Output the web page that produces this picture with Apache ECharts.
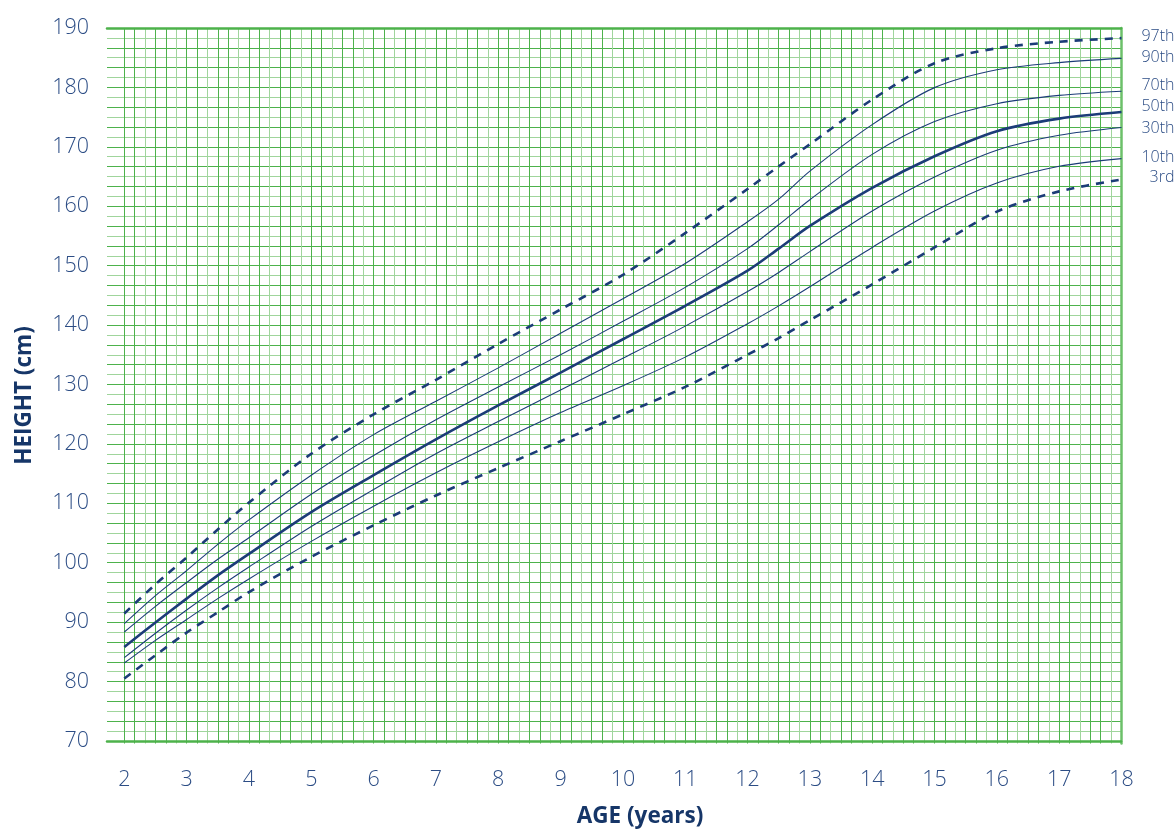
<!DOCTYPE html>
<html>
<head>
<meta charset="utf-8">
<script src="https://cdn.jsdelivr.net/npm/echarts@6/dist/echarts.min.js"></script>
<style>
html,body{margin:0;padding:0;background:#fff;}
#chart{width:1176px;height:833px;}
</style>
</head>
<body>
<div id="chart"></div>
<script>
// ---- data ----
const ages = [2, 2.5, 3, 3.5, 4, 5, 6, 7, 8, 9, 10, 11, 12, 12.5, 13, 14, 15, 16, 17, 18];
const p97 = [91.8, 96.7, 101.2, 105.9, 110.4, 118.6, 125.2, 131.0, 137.0, 142.8, 148.6, 155.6, 163.0, 166.8, 170.5, 178.0, 184.1, 186.6, 187.7, 188.3];
const p90 = [90.1, 94.8, 99.0, 103.4, 107.5, 115.0, 121.8, 127.4, 133.0, 138.8, 144.6, 150.5, 157.5, 161.3, 166.0, 173.8, 180.0, 183.0, 184.2, 184.9];
const p70 = [88.7, 93.0, 97.0, 100.9, 104.5, 111.8, 118.3, 124.3, 129.8, 135.2, 140.8, 146.5, 153.0, 157.0, 161.2, 168.8, 174.3, 177.3, 178.7, 179.4];
const p50 = [86.2, 90.3, 94.3, 98.2, 101.8, 108.8, 115.0, 121.0, 126.7, 132.2, 137.8, 143.4, 149.3, 153.0, 156.8, 163.2, 168.5, 172.7, 174.8, 175.9];
const p30 = [84.4, 88.5, 92.4, 96.1, 99.6, 106.4, 112.6, 118.6, 124.0, 129.3, 134.6, 140.0, 145.8, 149.0, 152.5, 159.3, 165.0, 169.5, 172.0, 173.3];
const p10 = [83.5, 87.3, 90.8, 94.3, 97.6, 103.9, 109.8, 115.4, 120.6, 125.5, 130.0, 134.8, 140.4, 143.4, 146.6, 153.2, 159.3, 164.0, 166.8, 168.1];
const p03 = [80.9, 84.8, 88.6, 92.0, 95.4, 101.3, 106.6, 111.6, 116.2, 120.7, 125.2, 129.8, 135.2, 138.0, 141.0, 147.0, 153.2, 159.2, 162.6, 164.6];
const centileNames = ['97th', '90th', '70th', '50th', '30th', '10th', '3rd'];
const xTitle = 'AGE (years)';
const yTitle = 'HEIGHT (cm)';
const yMin = 70, yMax = 190, xMin = 2, xMax = 18;

// ---- styling ----
const navy = '#1c3c78';
const labelBlue = '#2c4d85';
const titleBlue = '#163668';
const gDark = '#4db24b';
const gLight = '#a0d59c';
const font = '"Open Sans", "Noto Sans", sans-serif';

function pairs(vals) { return ages.map((a, i) => [a, vals[i]]); }
const seriesVals = [p97, p90, p70, p50, p30, p10, p03];
const labelDy = [-2, -1, -6, -5.5, 1, -1.5, -2];

const series = seriesVals.map((vals, i) => {
  const dashed = (i === 0 || i === 6);
  const thick = (i === 3);
  return {
    type: 'line',
    xAxisIndex: 2,
    yAxisIndex: 1,
    data: pairs(vals),
    smooth: 0.3,
    showSymbol: false,
    symbol: 'none',
    silent: true,
    lineStyle: {
      color: navy,
      width: dashed ? 2.6 : (thick ? 2.6 : 1.1),
      type: dashed ? [8, 7] : 'solid'
    },
    endLabel: {
      show: true,
      formatter: centileNames[i],
      distance: 0,
      align: 'right',
      offset: [53, labelDy[i]],
      color: labelBlue,
      fontSize: 16,
      fontFamily: font,
      fontWeight: 300
    },
    z: 10
  };
});

const isMult = (v, m) => Math.abs(v / m - Math.round(v / m)) < 1e-6;

const option = {
  animation: false,
  backgroundColor: '#fff',
  grid: [
    { left: 107, right: 55, top: 28, bottom: 89.5 },
    { left: 124.3, right: 54.5, top: 28, bottom: 89.5 }
  ],
  xAxis: [
    { // grid A bottom line + title
      gridIndex: 0, type: 'value', min: 1.72, max: xMax,
      axisLine: { show: true, lineStyle: { color: gDark, width: 2.5 } },
      axisTick: { show: false }, axisLabel: { show: false }, splitLine: { show: false },
      name: xTitle, nameLocation: 'middle', nameGap: 64,
      nameTextStyle: { color: titleBlue, fontSize: 22.5, fontWeight: 'bold', fontFamily: font, padding: [0, 0, 0, 52] }
    },
    { // grid A top border
      gridIndex: 0, type: 'value', position: 'top', min: 1.72, max: xMax,
      axisLine: { show: true, lineStyle: { color: gDark, width: 2.5 } },
      axisTick: { show: false }, axisLabel: { show: false }, splitLine: { show: false }
    },
    { // grid B: age scale, vertical grid lines, labels
      gridIndex: 1, type: 'value', min: xMin, max: xMax, interval: 1 / 6,
      axisLine: { show: false }, axisTick: { show: false },
      axisLabel: {
        interval: 0, margin: 25, color: labelBlue, fontSize: 21.5, fontFamily: font, fontWeight: 300,
        formatter: v => isMult(v, 1) ? String(Math.round(v)) : ''
      },
      splitLine: { show: true, lineStyle: { color: [gDark, gDark, gLight], width: 1 } }
    }
  ],
  yAxis: [
    { // grid A: height scale, horizontal grid lines, labels
      gridIndex: 0, type: 'value', min: yMin, max: yMax, interval: 10 / 6,
      axisLine: { show: false }, axisTick: { show: false },
      axisLabel: {
        interval: 0, margin: 18, color: labelBlue, fontSize: 21.5, fontFamily: font, fontWeight: 300,
        formatter: v => isMult(v, 10) ? String(Math.round(v)) : ''
      },
      splitLine: { show: true, lineStyle: { color: [gDark, gLight], width: 1 } },
      name: yTitle, nameLocation: 'middle', nameGap: 71, nameRotate: 90,
      nameTextStyle: { color: titleBlue, fontSize: 22.5, fontWeight: 'bold', fontFamily: font, padding: [0, 22, 0, 0] }
    },
    { // grid B: right border
      gridIndex: 1, type: 'value', position: 'right', min: yMin, max: yMax,
      axisLine: { show: true, lineStyle: { color: '#6cc06a', width: 2.5 } },
      axisTick: { show: false }, axisLabel: { show: false }, splitLine: { show: false }
    }
  ],
  series: series
};

const chart = echarts.init(document.getElementById('chart'), null, { renderer: 'canvas' });
chart.setOption(option);
</script>
</body>
</html>
